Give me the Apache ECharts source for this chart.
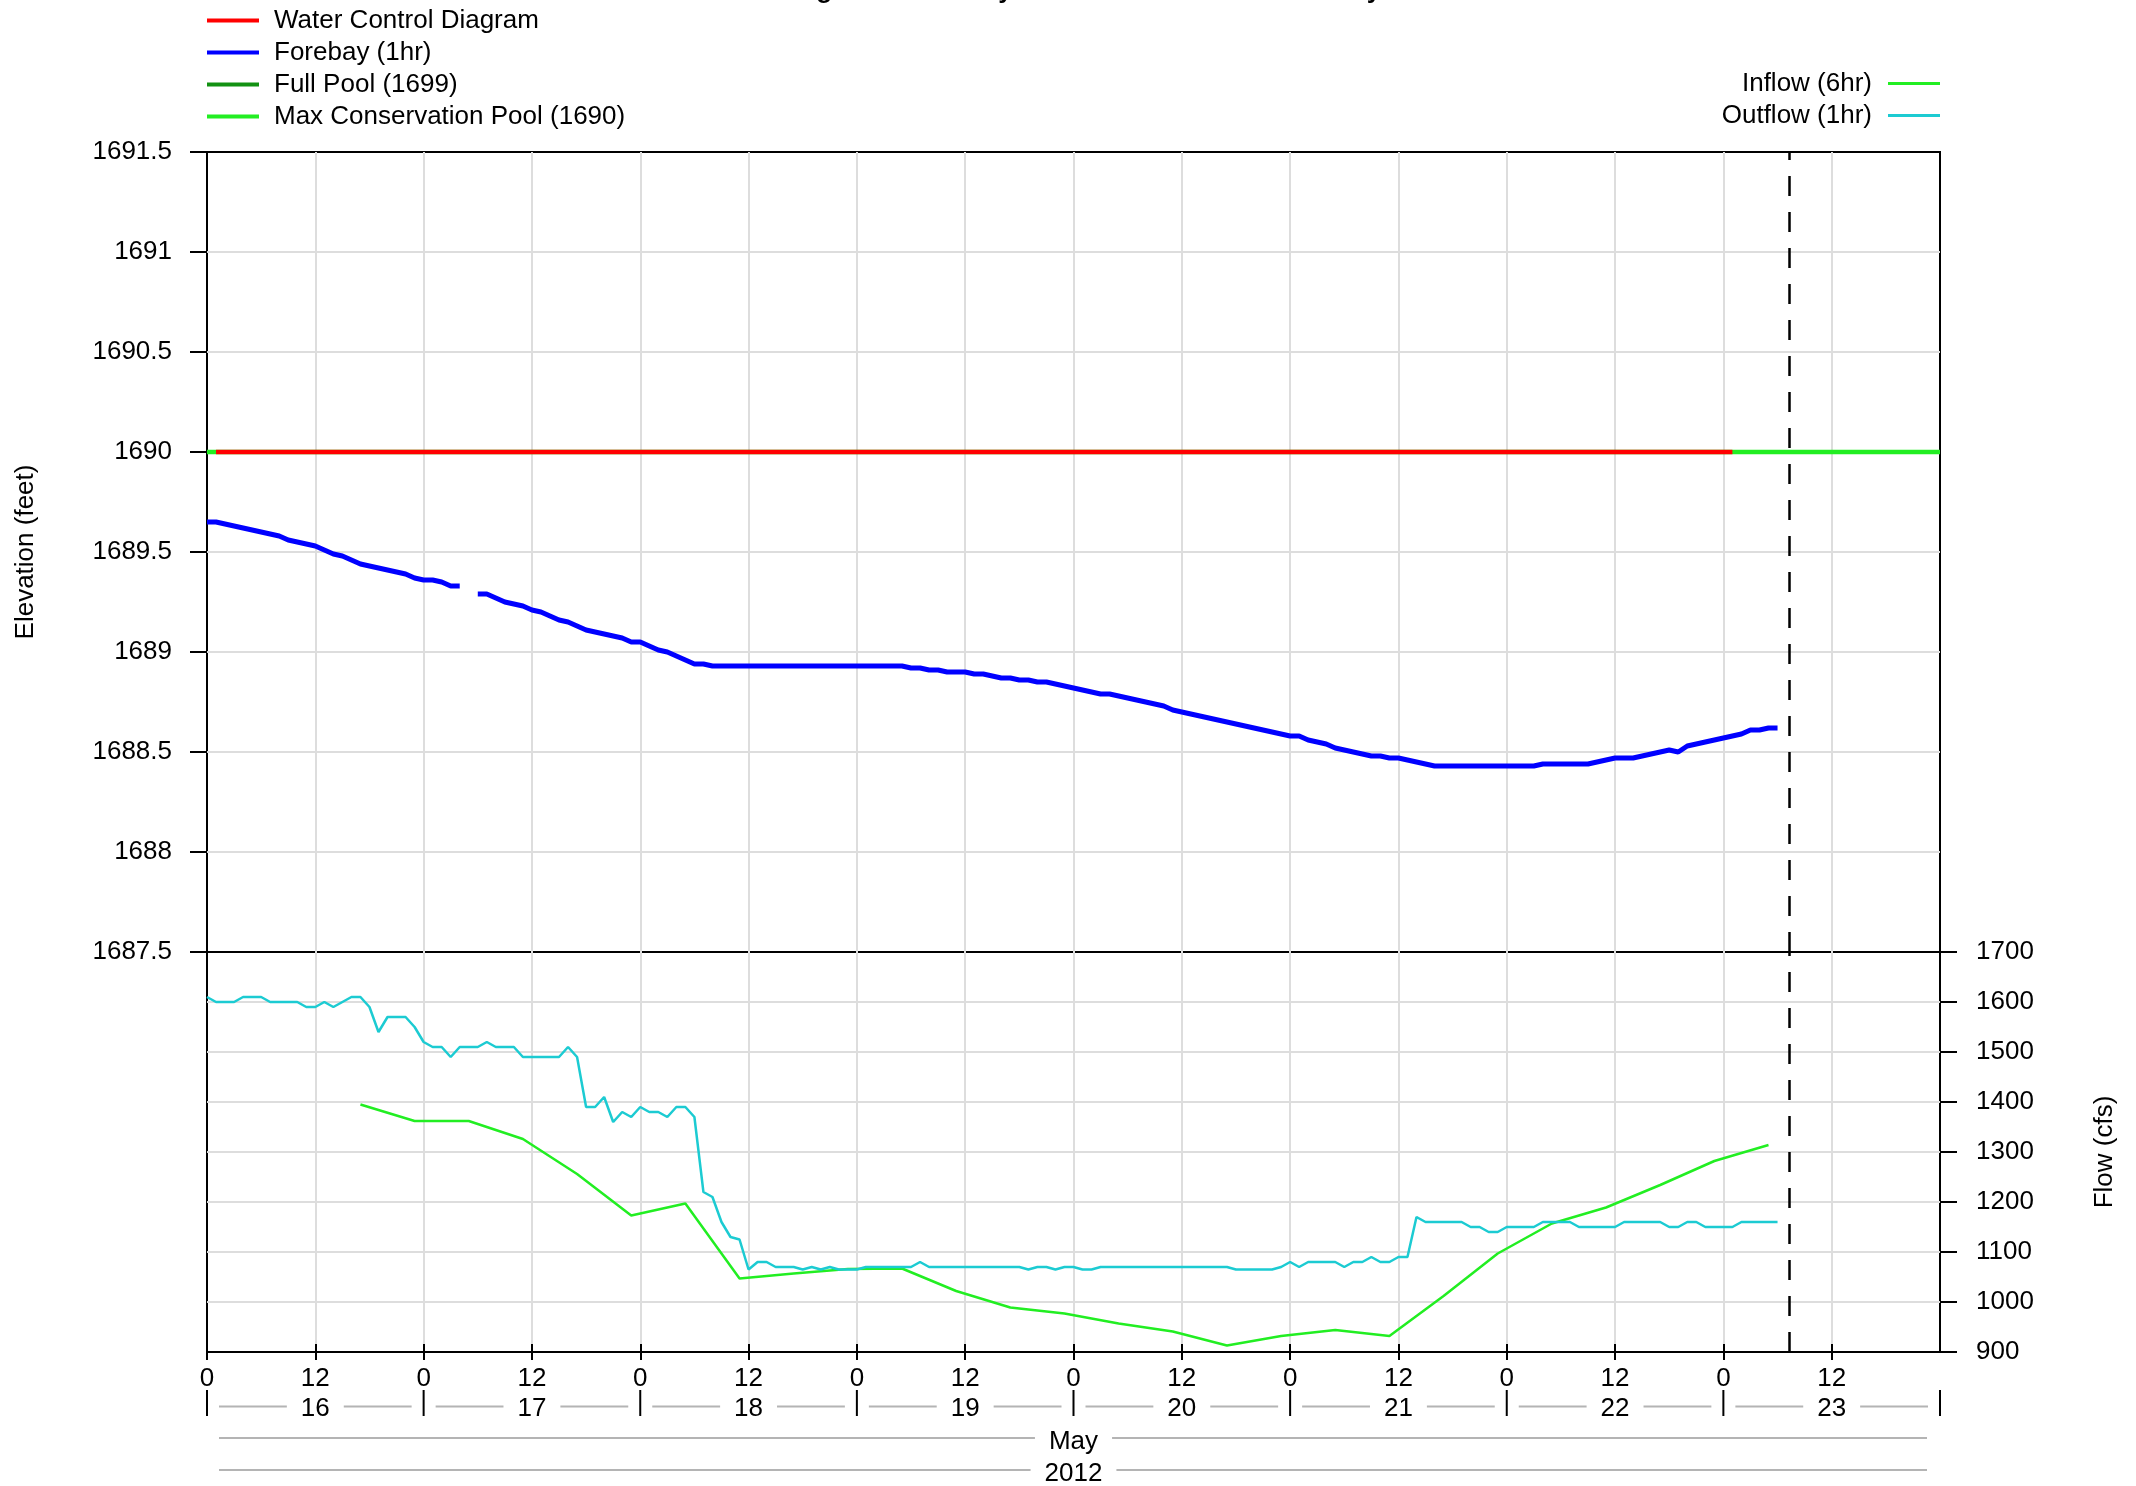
<!DOCTYPE html>
<html>
<head>
<meta charset="utf-8">
<script src="https://cdn.jsdelivr.net/npm/echarts@6/dist/echarts.min.js"></script>
<style>
html,body{margin:0;padding:0;background:#fff;}
#chart{width:2136px;height:1486px;}
</style>
</head>
<body>
<div id="chart"></div>
<script>
// ---------------- data (x = hours since 2012-05-16 00:00) ----------------
const titleText = 'Cougar Lake Hourly Elevation and Flow Summary';
const dayLabels = ['16', '17', '18', '19', '20', '21', '22', '23'];
const monthLabel = 'May';
const yearLabel = '2012';
const hourTickLabels = ['0','12','0','12','0','12','0','12','0','12','0','12','0','12','0','12'];
const elevTickLabels = ['1687.5','1688','1688.5','1689','1689.5','1690','1690.5','1691','1691.5'];
const flowTickLabels = ['900','1000','1100','1200','1300','1400','1500','1600','1700'];

// Forebay elevation, hourly, hour 0 .. 174 (null = missing)
const forebay = [
  1689.65,1689.65,1689.64,1689.63,1689.62,1689.61,1689.60,1689.59,1689.58,1689.56,
  1689.55,1689.54,1689.53,1689.51,1689.49,1689.48,1689.46,1689.44,1689.43,1689.42,
  1689.41,1689.40,1689.39,1689.37,1689.36,1689.36,1689.35,1689.33,1689.33,null,
  1689.29,1689.29,1689.27,1689.25,1689.24,1689.23,1689.21,1689.20,1689.18,1689.16,
  1689.15,1689.13,1689.11,1689.10,1689.09,1689.08,1689.07,1689.05,1689.05,1689.03,
  1689.01,1689.00,1688.98,1688.96,1688.94,1688.94,1688.93,1688.93,1688.93,1688.93,
  1688.93,1688.93,1688.93,1688.93,1688.93,1688.93,1688.93,1688.93,1688.93,1688.93,
  1688.93,1688.93,1688.93,1688.93,1688.93,1688.93,1688.93,1688.93,1688.92,1688.92,
  1688.91,1688.91,1688.90,1688.90,1688.90,1688.89,1688.89,1688.88,1688.87,1688.87,
  1688.86,1688.86,1688.85,1688.85,1688.84,1688.83,1688.82,1688.81,1688.80,1688.79,
  1688.79,1688.78,1688.77,1688.76,1688.75,1688.74,1688.73,1688.71,1688.70,1688.69,
  1688.68,1688.67,1688.66,1688.65,1688.64,1688.63,1688.62,1688.61,1688.60,1688.59,
  1688.58,1688.58,1688.56,1688.55,1688.54,1688.52,1688.51,1688.50,1688.49,1688.48,
  1688.48,1688.47,1688.47,1688.46,1688.45,1688.44,1688.43,1688.43,1688.43,1688.43,
  1688.43,1688.43,1688.43,1688.43,1688.43,1688.43,1688.43,1688.43,1688.44,1688.44,
  1688.44,1688.44,1688.44,1688.44,1688.45,1688.46,1688.47,1688.47,1688.47,1688.48,
  1688.49,1688.50,1688.51,1688.50,1688.53,1688.54,1688.55,1688.56,1688.57,1688.58,
  1688.59,1688.61,1688.61,1688.62,1688.62
];

// Outflow, hourly, hour 0 .. 174 (cfs)
const outflow = [
  1610,1600,1600,1600,1610,1610,1610,1600,1600,1600,
  1600,1590,1590,1600,1590,1600,1610,1610,1590,1540,
  1570,1570,1570,1550,1520,1510,1510,1490,1510,1510,
  1510,1520,1510,1510,1510,1490,1490,1490,1490,1490,
  1510,1490,1390,1390,1410,1360,1380,1370,1390,1380,
  1380,1370,1390,1390,1370,1220,1210,1160,1130,1125,
  1065,1080,1080,1070,1070,1070,1065,1070,1065,1070,
  1065,1065,1065,1070,1070,1070,1070,1070,1070,1080,
  1070,1070,1070,1070,1070,1070,1070,1070,1070,1070,
  1070,1065,1070,1070,1065,1070,1070,1065,1065,1070,
  1070,1070,1070,1070,1070,1070,1070,1070,1070,1070,
  1070,1070,1070,1070,1065,1065,1065,1065,1065,1070,
  1080,1070,1080,1080,1080,1080,1070,1080,1080,1090,
  1080,1080,1090,1090,1170,1160,1160,1160,1160,1160,
  1150,1150,1140,1140,1150,1150,1150,1150,1160,1160,
  1160,1160,1150,1150,1150,1150,1150,1160,1160,1160,
  1160,1160,1150,1150,1160,1160,1150,1150,1150,1150,
  1160,1160,1160,1160,1160
];

// Inflow, 6-hourly
const inflowHours  = [17,23,29,35,41,47,53,59,65,71,77,83,89,95,101,107,113,119,125,131,137,143,149,155,161,167,173];
const inflowValues = [1395,1362,1362,1326,1256,1173,1197,1047,1057,1066,1067,1022,989,977,957,941,913,932,944,932,1012,1097,1157,1189,1234,1282,1314];

// Reference lines
const wcdHours = [1, 169];          const wcdValues = [1690, 1690];
const maxConHours = [0, 192];       const maxConValues = [1690, 1690];
const fullPoolHours = [0, 192];     const fullPoolValues = [1699, 1699];
const nowHour = 175.3;              // current time, 2012-05-23 ~07:20

// ---------------- chart ----------------
const FONT = "'Liberation Sans', Arial, Helvetica, sans-serif";
const FS = 26;
const GRIDC = '#dddddd';

const pairs = (xs, ys) => xs.map((x, i) => [x, ys[i]]);
const hourly = ys => ys.map((v, i) => [i, v]);

const chart = echarts.init(document.getElementById('chart'), null, {renderer: 'canvas'});

const baseX = {
  type: 'value', min: 0, max: 192, interval: 12,
  axisLine: {show: false, onZero: false}, axisTick: {show: false}, axisLabel: {show: false},
  splitLine: {show: false}
};

const nowMark = {
  silent: true, symbol: ['none', 'none'], animation: false,
  label: {show: false},
  lineStyle: {color: '#000', width: 2.5, type: [20, 16]},
  data: [{xAxis: nowHour}]
};

const legendText = {fontFamily: FONT, fontSize: FS, color: '#000', lineHeight: 26};

const option = {
  animation: false,
  backgroundColor: '#fff',
  textStyle: {fontFamily: FONT},
  grid: [
    {left: 207, right: 196, top: 152, height: 800, show: true, borderColor: '#000', borderWidth: 2, backgroundColor: 'transparent'},
    {left: 207, right: 196, top: 952, height: 400, show: true, borderColor: '#000', borderWidth: 2, backgroundColor: 'transparent'}
  ],
  legend: [
    {
      orient: 'vertical', left: 207, top: 7.5, padding: 0, icon: 'rect', itemWidth: 52, itemHeight: 4, itemGap: 6,
      selectedMode: false,
      textStyle: Object.assign({padding: [0, 0, 0, 10]}, legendText),
      data: ['Water Control Diagram', 'Forebay (1hr)', 'Full Pool (1699)', 'Max Conservation Pool (1690)']
    },
    {
      orient: 'vertical', right: 196, top: 70.5, padding: 0, align: 'right', icon: 'rect', itemWidth: 52, itemHeight: 3, itemGap: 6,
      selectedMode: false,
      textStyle: Object.assign({padding: [0, 11, 0, 0]}, legendText),
      data: ['Inflow (6hr)', 'Outflow (1hr)']
    }
  ],
  xAxis: [
    Object.assign({}, baseX, {gridIndex: 0,
      splitLine: {show: true, showMinLine: false, showMaxLine: false, lineStyle: {color: GRIDC, width: 2}}}),
    Object.assign({}, baseX, {gridIndex: 1, position: 'bottom',
      splitLine: {show: true, showMinLine: false, showMaxLine: false, lineStyle: {color: GRIDC, width: 2}},
      axisTick: {show: true, inside: false, length: 8, lineStyle: {color: '#000', width: 2}},
      axisLabel: {show: true, margin: 14, fontSize: FS, fontFamily: FONT, color: '#000',
        showMaxLabel: false,
        formatter: v => (hourTickLabels[Math.round(v / 12)] !== undefined ? hourTickLabels[Math.round(v / 12)] : '')}
    }),
    Object.assign({}, baseX, {gridIndex: 1, position: 'bottom',
      axisTick: {show: true, inside: true, length: 8, lineStyle: {color: '#000', width: 2}}})
  ],
  yAxis: [
    {
      gridIndex: 0, type: 'value', min: 1687.5, max: 1691.5, interval: 0.5, position: 'left',
      axisLine: {show: false, onZero: false},
      axisTick: {show: true, length: 17, lineStyle: {color: '#000', width: 2}},
      axisLabel: {margin: 35, fontSize: FS, fontFamily: FONT, color: '#000',
        formatter: v => elevTickLabels[Math.round((v - 1687.5) / 0.5)]},
      splitLine: {show: true, showMinLine: false, showMaxLine: false, lineStyle: {color: GRIDC, width: 2}},
      name: 'Elevation (feet)', nameLocation: 'middle', nameRotate: 90, nameGap: 168,
      nameTextStyle: {fontSize: FS, fontFamily: FONT, color: '#000', lineHeight: 26}
    },
    {
      gridIndex: 1, type: 'value', min: 900, max: 1700, interval: 100, position: 'right',
      axisLine: {show: false, onZero: false},
      axisTick: {show: true, length: 17, lineStyle: {color: '#000', width: 2}},
      axisLabel: {margin: 36, fontSize: FS, fontFamily: FONT, color: '#000',
        formatter: v => flowTickLabels[Math.round((v - 900) / 100)]},
      splitLine: {show: true, showMinLine: false, showMaxLine: false, lineStyle: {color: GRIDC, width: 2}},
      name: 'Flow (cfs)', nameLocation: 'middle', nameRotate: 90, nameGap: 152,
      nameTextStyle: {fontSize: FS, fontFamily: FONT, color: '#000', lineHeight: 26}
    }
  ],
  series: [
    {
      name: 'Max Conservation Pool (1690)', type: 'line', xAxisIndex: 0, yAxisIndex: 0,
      color: '#22ee22', showSymbol: false, symbol: 'none', z: 2,
      lineStyle: {width: 4.5, color: '#22ee22'}, data: pairs(maxConHours, maxConValues)
    },
    {
      name: 'Full Pool (1699)', type: 'line', xAxisIndex: 0, yAxisIndex: 0,
      color: '#129112', showSymbol: false, symbol: 'none', z: 2, clip: true,
      lineStyle: {width: 4.5, color: '#129112'}, data: pairs(fullPoolHours, fullPoolValues)
    },
    {
      name: 'Water Control Diagram', type: 'line', xAxisIndex: 0, yAxisIndex: 0,
      color: '#ff0000', showSymbol: false, symbol: 'none', z: 3,
      lineStyle: {width: 4.5, color: '#ff0000'}, data: pairs(wcdHours, wcdValues)
    },
    {
      name: 'Forebay (1hr)', type: 'line', xAxisIndex: 0, yAxisIndex: 0,
      color: '#0000ff', showSymbol: false, symbol: 'none', z: 4, connectNulls: false,
      lineStyle: {width: 5, color: '#0000ff'}, data: hourly(forebay),
      markLine: nowMark
    },
    {
      name: 'Inflow (6hr)', type: 'line', xAxisIndex: 1, yAxisIndex: 1,
      color: '#22ee22', showSymbol: false, symbol: 'none', z: 3,
      lineStyle: {width: 2.5, color: '#22ee22'}, data: pairs(inflowHours, inflowValues)
    },
    {
      name: 'Outflow (1hr)', type: 'line', xAxisIndex: 1, yAxisIndex: 1,
      color: '#1ccbd2', showSymbol: false, symbol: 'none', z: 4,
      lineStyle: {width: 2.5, color: '#1ccbd2'}, data: hourly(outflow),
      markLine: nowMark
    }
  ]
};

chart.setOption(option);

// ---------------- time-axis labels (days / month / year) ----------------
const mctx = document.createElement('canvas').getContext('2d');
mctx.font = FS + 'px ' + FONT;
const tw = t => mctx.measureText(t).width;
const px = h => chart.convertToPixel({xAxisIndex: 1}, h);

const GRAY = '#b4b4b4';
const yDay = 1409, yMonth = 1441.5, yYear = 1473.5;
const gfx = [];
const textEl = (t, x, y, font) => ({
  type: 'text', x: x, y: y, silent: true,
  style: {text: t, font: font || (FS + 'px ' + FONT), fill: '#000', align: 'center', verticalAlign: 'middle'}
});
const grayLine = (x1, x2, y) => ({
  type: 'line', silent: true, shape: {x1: x1, y1: y, x2: x2, y2: y},
  style: {stroke: GRAY, lineWidth: 2}
});

for (let d = 0; d <= dayLabels.length; d++) {
  const x = px(d * 24);
  gfx.push({type: 'line', silent: true, shape: {x1: x, y1: 1390, x2: x, y2: 1416}, style: {stroke: '#000', lineWidth: 2}});
}
dayLabels.forEach((lab, i) => {
  const x0 = px(i * 24), x1 = px(i * 24 + 24), xc = px(i * 24 + 12);
  const hw = tw(lab) / 2;
  gfx.push(textEl(lab, xc, yDay));
  gfx.push(grayLine(x0 + 12, xc - hw - 14, yDay - 2.5));
  gfx.push(grayLine(xc + hw + 14, x1 - 12, yDay - 2.5));
});
[[monthLabel, yMonth], [yearLabel, yYear]].forEach(([lab, y]) => {
  const x0 = px(0), x1 = px(192), xc = px(96);
  const hw = tw(lab) / 2;
  gfx.push(textEl(lab, xc, y));
  gfx.push(grayLine(x0 + 12, xc - hw - 14, y - 3.5));
  gfx.push(grayLine(xc + hw + 14, x1 - 13, y - 3.5));
});
// title (cut off at the top edge, as in the original)
gfx.push(textEl(titleText, px(96), -9, 'bold 26px ' + FONT));

chart.setOption({graphic: gfx});
</script>
</body>
</html>
